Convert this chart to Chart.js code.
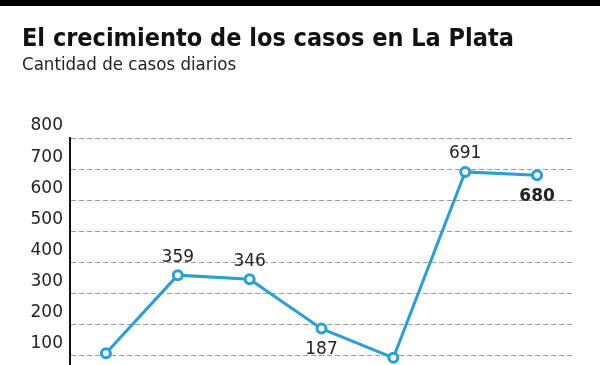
<!DOCTYPE html>
<html>
<head>
<meta charset="utf-8">
<script src="https://cdn.jsdelivr.net/npm/chart.js@4"></script>
<style>
    html, body { margin: 0; padding: 0; background: #fff; }
    .wrap { position: relative; width: 600px; height: 365px; overflow: hidden; }
    .topbar { position: absolute; left: 0; top: 0; width: 600px; height: 6px; background: #000; }
    .title, .subtitle {
        position: absolute; left: 22px; white-space: nowrap;
        font-family: "DejaVu Sans Condensed", "Liberation Sans", sans-serif;
    }
    .title { top: 23px; font-size: 25px; font-weight: bold; color: #111; }
    .subtitle { top: 53px; font-size: 18.5px; color: #222; }
    canvas { position: absolute; left: 0; top: 0; }
</style>
</head>
<body>
<div class="wrap">
    <canvas id="chart" width="600" height="365"></canvas>
    <div class="topbar"></div>
    <div class="title">El crecimiento de los casos en La Plata</div>
    <div class="subtitle">Cantidad de casos diarios</div>
</div>
<script>
// daily cases (first and fifth values are partly cropped in the source, estimated)
const days = ['Día 1', 'Día 2', 'Día 3', 'Día 4', 'Día 5', 'Día 6', 'Día 7'];
const cases = [108, 359, 346, 187, 93, 691, 680];
// which points carry a value label, and where
const labelSide = [null, 'above', 'above', 'below', null, 'above', 'below'];
const labelBold = [false, false, false, false, false, false, true];
const yTicks = [100, 200, 300, 400, 500, 600, 700, 800];

const LINE_BLUE = '#27a0d6';
const TEXT = '#222';

// draws the numbers next to the points
const valueLabels = {
    id: 'valueLabels',
    afterDatasetsDraw(chart) {
        const ctx = chart.ctx;
        const meta = chart.getDatasetMeta(0);
        ctx.save();
        ctx.fillStyle = TEXT;
        ctx.textAlign = 'center';
        ctx.textBaseline = 'middle';
        meta.data.forEach((pt, i) => {
            const side = labelSide[i];
            if (!side) return;
            ctx.font = (labelBold[i] ? 'bold ' : '') + '17px "DejaVu Sans", sans-serif';
            const dy = side === 'above' ? -18 : 21;
            ctx.fillText(String(cases[i]), pt.x, pt.y + dy);
        });
        ctx.restore();
    }
};

new Chart(document.getElementById('chart'), {
    type: 'line',
    data: {
        labels: days,
        datasets: [{
            data: cases,
            borderColor: LINE_BLUE,
            borderWidth: 3,
            tension: 0,
            pointRadius: 4.5,
            pointBorderWidth: 3,
            pointBackgroundColor: '#fff',
            pointBorderColor: LINE_BLUE
        }]
    },
    options: {
        responsive: false,
        animation: false,
        layout: {
            autoPadding: false,
            padding: { top: 138, right: 27, bottom: 0, left: 0 }
        },
        plugins: {
            legend: { display: false },
            tooltip: { enabled: false }
        },
        scales: {
            x: {
                display: false,
                offset: true
            },
            y: {
                min: 70,
                max: 800,
                afterBuildTicks: scale => {
                    scale.ticks = yTicks.map(v => ({ value: v }));
                },
                afterFit: scale => {
                    scale.width = 70;
                    scale.paddingTop = 0;
                    scale.paddingBottom = 0;
                },
                grid: {
                    color: '#9a9a9a',
                    lineWidth: 1,
                    drawTicks: false
                },
                border: {
                    display: true,
                    color: '#111',
                    width: 2,
                    dash: [5, 3]
                },
                ticks: {
                    padding: 7,
                    labelOffset: -12,
                    color: TEXT,
                    font: { family: '"DejaVu Sans", sans-serif', size: 17 }
                }
            }
        }
    },
    plugins: [valueLabels]
});
</script>
</body>
</html>
